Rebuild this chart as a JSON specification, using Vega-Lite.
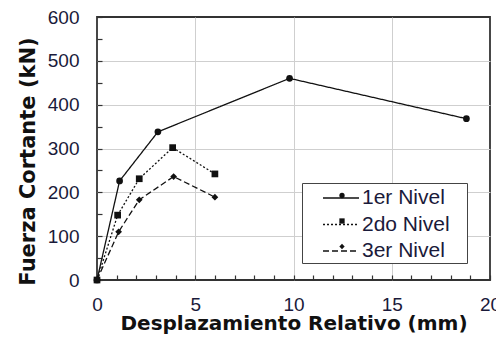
{
  "$schema": "https://vega.github.io/schema/vega-lite/v6.json",
  "width": 393,
  "height": 263,
  "autosize": {"type": "none"},
  "padding": {"left": 97, "top": 17, "right": 6, "bottom": 63},
  "background": "white",
  "config": {
    "font": "Liberation Sans",
    "view": {"stroke": "#333", "strokeWidth": 1.8},
    "axis": {"labelFont": "Liberation Sans", "titleFont": "DejaVu Sans", "labelColor": "#1a1a3a", "titleColor": "#111"}
  },
  "data": {"values": [
    {"serie": "1er Nivel", "nivel": "1er Nivel", "d": 0, "v": 0},
    {"serie": "1er Nivel", "nivel": "1er Nivel", "d": 1.15, "v": 226},
    {"serie": "1er Nivel", "nivel": "1er Nivel", "d": 3.1, "v": 338},
    {"serie": "1er Nivel", "nivel": "1er Nivel", "d": 9.8, "v": 460},
    {"serie": "1er Nivel", "nivel": "1er Nivel", "d": 18.8, "v": 368},
    {"serie": "2do Nivel", "nivel": "2do Nivel", "d": 0, "v": 0},
    {"serie": "2do Nivel", "nivel": "2do Nivel", "d": 1.05, "v": 148},
    {"serie": "2do Nivel", "nivel": "2do Nivel", "d": 2.15, "v": 231},
    {"serie": "2do Nivel", "nivel": "2do Nivel", "d": 3.85, "v": 302},
    {"serie": "2do Nivel", "nivel": "2do Nivel", "d": 6.0, "v": 242},
    {"serie": "3er Nivel", "nivel": "3er Nivel", "d": 0, "v": 0},
    {"serie": "3er Nivel", "nivel": "3er Nivel", "d": 1.1, "v": 110},
    {"serie": "3er Nivel", "nivel": "3er Nivel", "d": 2.15, "v": 183},
    {"serie": "3er Nivel", "nivel": "3er Nivel", "d": 3.9, "v": 236},
    {"serie": "3er Nivel", "nivel": "3er Nivel", "d": 6.0, "v": 189}
  ]},
  "encoding": {
    "x": {
      "field": "d", "type": "quantitative",
      "scale": {"domain": [0, 20], "nice": false},
      "axis": {
        "values": [0,1,2,3,4,5,6,7,8,9,10,11,12,13,14,15,16,17,18,19,20],
        "labelExpr": "datum.value % 5 === 0 ? datum.label : ''",
        "gridColor": "#cfcfcf",
        "gridOpacity": {"condition": {"test": "datum.value % 5 === 0 && datum.value > 0 && datum.value < 20", "value": 1}, "value": 0},
        "tickSize": -5, "tickColor": "#333", "tickWidth": 1.2,
        "domain": false,
        "labelFontSize": 19, "labelPadding": 20, "labelFlush": false, "labelOverlap": false, "labelBound": false,
        "title": "Desplazamiento Relativo (mm)",
        "titleFontSize": 20, "titleFontWeight": "bold", "titlePadding": -1
      }
    },
    "y": {
      "field": "v", "type": "quantitative",
      "scale": {"domain": [0, 600], "nice": false},
      "axis": {
        "values": [0,50,100,150,200,250,300,350,400,450,500,550,600],
        "labelExpr": "datum.value % 100 === 0 ? datum.label : ''",
        "gridColor": "#cfcfcf",
        "gridOpacity": {"condition": {"test": "datum.value % 100 === 0 && datum.value > 0 && datum.value < 600", "value": 1}, "value": 0},
        "tickSize": -5, "tickColor": "#333", "tickWidth": 1.2,
        "domain": false,
        "labelFontSize": 19, "labelPadding": 23, "labelFlush": false, "labelOverlap": false,
        "title": "Fuerza Cortante (kN)",
        "titleFontSize": 21, "titleFontWeight": "bold", "titlePadding": 9, "titleY": 144
      }
    }
  },
  "layer": [
    {
      "mark": {"type": "line", "color": "#111", "strokeWidth": 1.3},
      "encoding": {
        "detail": {"field": "serie", "type": "nominal"},
        "strokeDash": {
          "field": "nivel", "type": "nominal",
          "scale": {"domain": ["1er Nivel", "2do Nivel", "3er Nivel"], "range": [[1, 0], [2, 2], [6, 3]]},
          "legend": {
            "title": " ", "titleOrient": "right", "titlePadding": 15, "titleFontSize": 10,
            "orient": "none", "legendX": 205, "legendY": 166,
            "symbolType": "M-1.5,0H1.5", "symbolSize": 576, "symbolStrokeWidth": 1.5, "symbolStrokeColor": "#111",
            "symbolOffset": 24,
            "labelFontSize": 21, "labelFont": "Liberation Sans", "labelColor": "#1a1a3a",
            "rowPadding": 3.5, "padding": 2, "strokeColor": "#444", "fillColor": "white",
            "labelOffset": 8, "zindex": 0
          }
        }
      }
    },
    {
      "mark": {"type": "point", "filled": true, "color": "#111", "opacity": 1},
      "encoding": {
        "shape": {
          "field": "serie", "type": "nominal",
          "scale": {"range": ["circle", "square", "diamond"]},
          "legend": {
            "title": null, "orient": "none", "legendX": 205, "legendY": 166,
            "symbolSize": 28, "symbolFillColor": "#111", "symbolStrokeColor": "#111", "symbolStrokeWidth": 0,
            "symbolOffset": 27.5,
            "labelFontSize": 21, "labelFont": "Liberation Sans", "labelOpacity": 0,
            "rowPadding": 3.5, "padding": 2, "labelOffset": 7, "zindex": 1
          }
        },
        "size": {"value": 45}
      }
    }
  ]
}
